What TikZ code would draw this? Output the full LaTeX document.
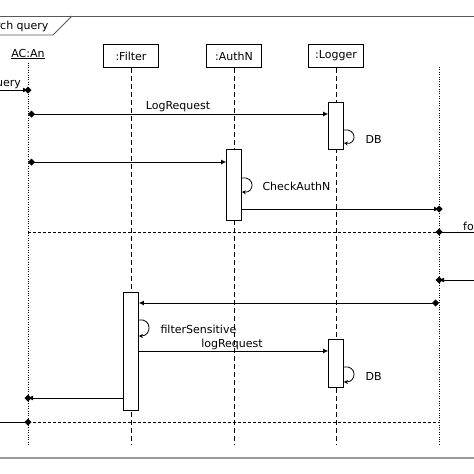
\documentclass[tikz,border=0pt]{standalone}
\usepackage{fontspec}
\setmainfont{DejaVu Sans}
\usetikzlibrary{arrows.meta}
\begin{document}
\begin{tikzpicture}[x=1pt,y=-1pt,font=\fontsize{11}{12}\selectfont,
  obj/.style={draw,thick,minimum width=55pt,minimum height=23pt,inner sep=1pt},
  life/.style={dashed,thick,dash pattern=on 5pt off 3pt},
  dotlife/.style={dotted,thin},
  act/.style={draw,fill=white,thick,minimum width=15pt,inner sep=0pt},
  msg/.style={thick,-{Latex[length=5pt,width=5pt]}},
  dm/.style={thick,{Diamond[length=7pt,width=7pt]}-{Latex[length=5pt,width=5pt]}},
  ret/.style={thick,dashed,dash pattern=on 3pt off 2pt},
  self/.style={thick,-{Stealth[length=4pt,width=4pt]}},
  dia/.style={insert path={+(-3.5,0) -- +(0,-3.5) -- +(3.5,0) -- +(0,3.5) -- cycle}}]
\useasboundingbox (0,0) rectangle (474,474);
% frame
\draw[thick,gray!70!black] (0,16) -- (474,16);
\draw[thick,gray!70!black] (0,35) -- (53,35) -- (72,16);
\node[anchor=east] (title) at (52,26) {rch query};
\draw[line width=1.5pt,gray!80] (0,458) -- (474,458);
% objects
\node (ac) at (28,54) {\underline{AC:An}};
\node[obj] (f) at (131,56) {:Filter};
\node[obj] (a) at (234,56) {:AuthN};
\node[obj] (l) at (336,56) {:Logger};
\coordinate (acB) at (28,445);
\coordinate (fB) at (131,445);
\coordinate (aB) at (234,445);
\coordinate (lB) at (336,445);
\coordinate (rT) at (439,67);
\coordinate (rB) at (439,445);
\draw[dotlife] (ac.south) -- (acB);
\draw[life] (f.south) -- (fB);
\draw[life] (a.south) -- (aB);
\draw[life] (l.south) -- (lB);
\draw[dotlife] (rT) -- (rB);
% activations
\node[act,minimum height=47pt] (l1) at (336,125.5) {};
\node[act,minimum height=71pt] (a1) at (234,184.5) {};
\node[act,minimum height=118pt] (f1) at (131,351) {};
\node[act,minimum height=48pt] (l2) at (336,363) {};
% coordinates
\coordinate (q0) at (0,90); \coordinate (q1) at (28,90);
\coordinate (m1) at (28,114); \coordinate (m2) at (28,162);
\coordinate (r1) at (439,209);
\coordinate (d0) at (28,232); \coordinate (d1) at (439,232); \coordinate (d2) at (474,232);
\coordinate (e0) at (474,280); \coordinate (e1) at (439,280);
\coordinate (g0) at (439,303);
\coordinate (h1) at (28,398);
\coordinate (k0) at (0,422); \coordinate (k1) at (28,422); \coordinate (k2) at (439,422);
% messages
\draw[msg] (q0) -- (q1);
\node[anchor=south east,inner sep=1pt] (ql) at (22,90) {query};
\fill (q1) [dia];
\draw[dm] (m1) -- node[above,pos=0.5,inner sep=1.5pt] (lr) {LogRequest} (l1.west |- m1);
\draw[dm] (m2) -- (a1.west |- m2);
\draw[msg] (a1.east |- r1) -- (r1);
\fill (r1) [dia];
\draw[ret] (d0) -- (d1);
\draw[thick] (d1) -- (d2);
\node[anchor=south west,inner sep=1pt] (fo) at (462,232) {fo};
\fill (d1) [dia];
\draw[msg] (e0) -- (e1);
\fill (e1) [dia];
\draw[dm] (g0) -- (f1.east |- g0);
\draw[msg] (f1.east |- 0,351) -- (l2.west |- 0,351);
\node[anchor=south,inner sep=1pt] (lr2) at (232,351) {logRequest};
\draw[msg] (f1.west |- h1) -- (h1);
\fill (h1) [dia];
\draw[ret] (k1) -- (k2);
\draw[thick] (k0) -- (k1);
\fill (k1) [dia];
% self loops
\draw[self] (l1.east |- 0,130) .. controls (357,128) and (357,145) .. (l1.east |- 0,143);
\node[anchor=west] (db1) at (362,139) {DB};
\draw[self] (a1.east |- 0,178) .. controls (255,176) and (255,193) .. (a1.east |- 0,192);
\node[anchor=west] (ca) at (259,186) {CheckAuthN};
\draw[self] (f1.east |- 0,320) .. controls (152,318) and (152,336) .. (f1.east |- 0,336);
\node[anchor=west] (fs) at (157,329) {filterSensitive};
\draw[self] (l2.east |- 0,367) .. controls (357,365) and (357,382) .. (l2.east |- 0,382);
\node[anchor=west] (db2) at (362,376) {DB};
\end{tikzpicture}
\end{document}
